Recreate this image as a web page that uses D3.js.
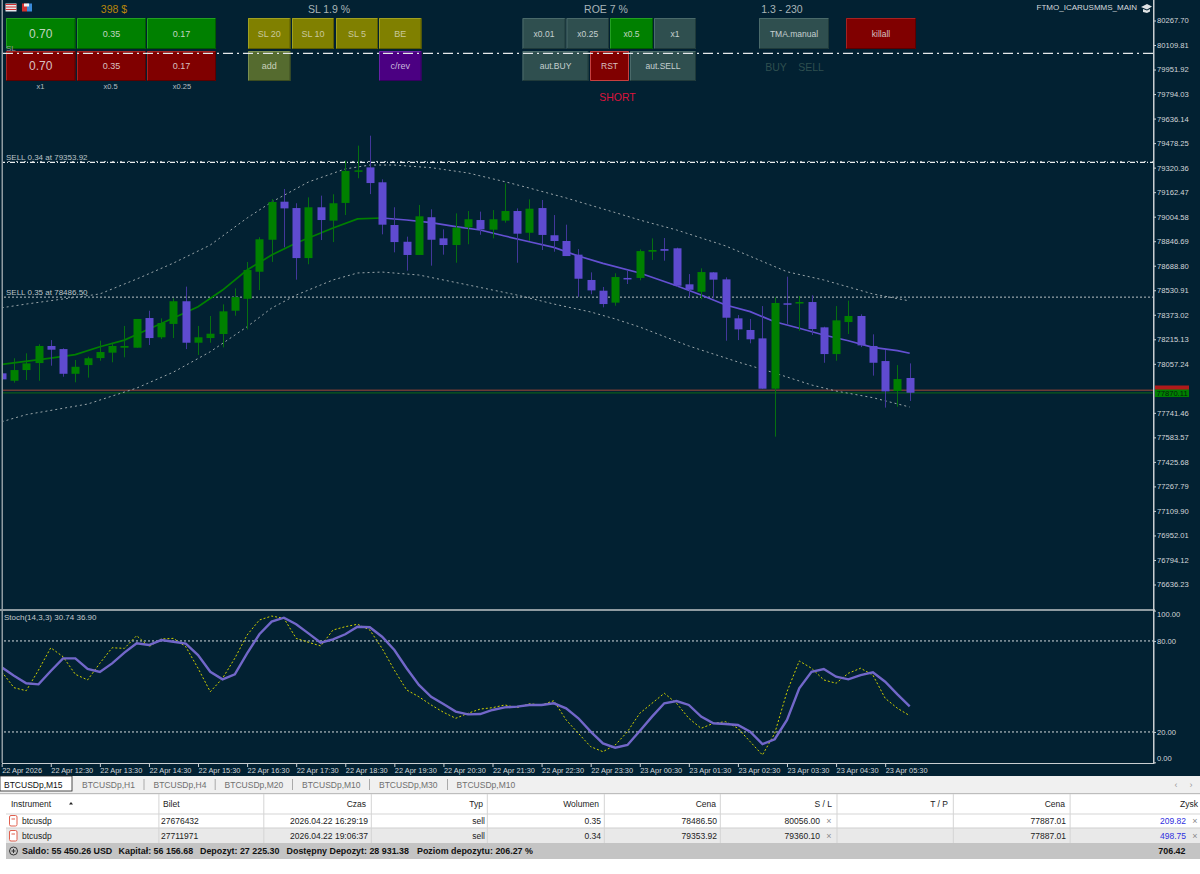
<!DOCTYPE html>
<html>
<head>
<meta charset="utf-8">
<script src="https://cdn.jsdelivr.net/npm/d3@7"></script>
<style>
  html, body { margin: 0; padding: 0; background: #fff; }
  svg { display: block; }
  text { font-family: "Liberation Sans", Arial, sans-serif; }
</style>
</head>
<body>
<div id="chart"></div>
<script>
// BTCUSDp M15 terminal window: candles + TMA bands + stochastic + trade panel

// price candles, one entry per 15 min bar
var highs = [78043,78093,78125,78183,78210,78157,78082,78103,78206,78193,78301,78346,78399,78350,78479,78554,78301,78365,78440,78543,78713,78872,79118,79183,79091,79129,79140,79149,79365,79462,79526,79245,79065,78876,79080,79052,78923,79026,79041,79037,79047,79219,79058,79116,79112,79015,78953,78796,78646,78552,78640,78657,78794,78865,78867,78805,78635,78672,78648,78614,78371,78346,78429,78485,78618,78494,78498,78296,78429,78464,78376,78247,78146,78049,78060];
var lows = [77946,77936,77953,77948,78045,77974,77938,77968,78077,78067,78099,78161,78178,78217,78223,78152,78114,78193,78163,78367,78279,78532,78713,78807,78599,78698,78854,78841,79015,79252,79150,78891,78775,78657,78758,78689,78760,78708,78827,78888,78865,78966,78708,78848,78790,78779,78751,78489,78505,78421,78431,78571,78595,78726,78721,78554,78485,78473,78479,78206,78210,78189,77897,77588,78314,78270,78243,78064,78077,78249,78165,77981,77775,77781,77818];
var opens = [77996,77948,78017,78062,78172,78152,77993,78049,78094,78129,78161,78161,78352,78228,78314,78460,78193,78223,78249,78399,78476,78650,78856,79101,79060,78738,79065,78979,79093,79294,79322,79226,78951,78843,78758,79001,78865,78822,78936,78983,78921,78979,79041,78901,79060,78885,78848,78760,78597,78528,78451,78610,78610,78779,78796,78801,78569,78521,78646,78601,78350,78275,78221,77897,78447,78447,78455,78292,78120,78326,78365,78172,78075,77882,77966];
var closes = [77957,78017,78060,78172,78148,77993,78038,78093,78133,78172,78172,78346,78223,78320,78460,78193,78228,78251,78395,78487,78661,78859,79099,79058,78738,79065,78983,79091,79299,79303,79221,78953,78841,78758,79007,78856,78822,78934,78988,78923,78988,79041,78895,79056,78887,78848,78751,78605,78530,78442,78616,78603,78783,78790,78785,78560,78534,78648,78599,78354,78279,78215,77897,78449,78438,78455,78281,78120,78337,78365,78176,78064,77880,77959,77871];

// TMA centre line and its two bands, read at these bars
var tmaBars = [0,4,6,8,10,12,14,16,18,20,22,24,25,27,29,31,33,35,37,39,41,43,45,47,49,52,55,57,59,61,63,65,67,69,71,73,74];
var tmaValues = [78054,78094,78116,78167,78210,78281,78352,78425,78532,78661,78758,78835,78867,78932,78990,78996,78983,78966,78940,78919,78880,78843,78807,78751,78704,78642,78560,78500,78436,78393,78328,78286,78243,78206,78163,78142,78125];
var tmaTurnBar = 31; // green while rising, purple afterwards
var upperBars = [0,2,8,11,14,17,20,22,25,28,30,32,35,38,41,43,46,50,52,55,59,64,67,71,74];
var upperValues = [78418,78442,78507,78603,78706,78822,78996,79099,79228,79312,79337,79337,79320,79286,79230,79189,79125,79031,78983,78919,78816,78650,78597,78507,78462];
var lowerBars = [0,2,7,11,14,17,20,22,24,27,29,31,34,38,42,45,48,50,52,56,60,63,66,68,71,74];
var lowerValues = [77684,77730,77798,77901,78004,78135,78296,78416,78500,78597,78642,78648,78629,78565,78500,78442,78391,78346,78294,78172,78069,77998,77921,77882,77839,77779];

// stochastic, one value per bar
var stochMain = [59.7,49.2,47.2,60.8,75.5,69.6,58,54.3,65.3,75.5,75.1,83.5,76.2,81.3,81.7,76.2,62,46.5,55.4,68.6,83.9,93.8,96.4,94.9,81.7,79.1,76.7,87.2,89.4,91,87.2,75.1,60.8,47.7,43.2,37.8,33,29,32.3,35.1,36,37.8,36,38.6,37.8,40.6,27.9,19.1,10.3,7,11.4,20.2,32.3,38.9,45.5,38.9,29,22.4,25.7,26.8,22.4,13.6,4.8,19.1,46.5,66.8,62,54.3,52.1,58.7,62,57.5,42.2,35.6,30.74];
var stochSignal = [62.6,57.1,52.1,51.4,60.2,68.5,68.5,61.5,59.5,65.2,72.3,78.4,77.3,80.6,79.5,78.2,70.7,59.7,54.7,58,71.8,84.4,92.7,95.3,91,85,78.8,81,84.4,89.4,89,82.8,74,62,51,43.2,38.4,33.4,31.6,31.8,34.5,36.2,36.7,37.8,37.8,38.9,35.6,29,20.2,12.5,9.6,11.4,20.6,30.1,38.9,40.4,37.8,30.1,25.7,25.2,24.6,20.2,12,15.2,27.9,48.8,59.7,61.5,56.4,54.7,57.5,59.3,53.1,44.8,36.9];
var stochLevels = [80, 20];

// trade levels
var slLevel = 80056.00;
var sellLevels = [79353.92, 78486.50];
var sellLabels = ["SELL 0.34 at 79353.92", "SELL 0.35 at 78486.50"];
var secondStop = 79360.10;
var askPrice = 77887.01;
var bidPrice = 77870.11;

// axes
var priceTicks = [80267.70,80109.81,79951.92,79794.03,79636.14,79478.25,79320.36,79162.47,79004.58,78846.69,78688.80,78530.91,78373.02,78215.13,78057.24,77741.46,77583.57,77425.68,77267.79,77109.90,76952.01,76794.12,76636.23];
var stochTicks = [100, 80, 20, 0];
var timeBars = [0,4,8,12,16,20,24,28,32,36,40,44,48,52,56,60,64,68,72];
var timeLabels = ["22 Apr 2026","22 Apr 12:30","22 Apr 13:30","22 Apr 14:30","22 Apr 15:30","22 Apr 16:30","22 Apr 17:30","22 Apr 18:30","22 Apr 19:30","22 Apr 20:30","22 Apr 21:30","22 Apr 22:30","22 Apr 23:30","23 Apr 00:30","23 Apr 01:30","23 Apr 02:30","23 Apr 03:30","23 Apr 04:30","23 Apr 05:30"];

// bottom tabs and positions table
var tabNames = ["BTCUSDp,M15","BTCUSDp,H1","BTCUSDp,H4","BTCUSDp,M20","BTCUSDp,M10","BTCUSDp,M30","BTCUSDp,M10"];
var tableHeaders = ["Instrument","Bilet","Czas","Typ","Wolumen","Cena","S / L","T / P","Cena","Zysk"];
var rowSymbols = ["btcusdp","btcusdp"];
var rowTickets = ["27676432","27711971"];
var rowTimes = ["2026.04.22 16:29:19","2026.04.22 19:06:37"];
var rowTypes = ["sell","sell"];
var rowVolumes = ["0.35","0.34"];
var rowOpenPrices = ["78486.50","79353.92"];
var rowStops = ["80056.00","79360.10"];
var rowPrices = ["77887.01","77887.01"];
var rowProfits = ["209.82","498.75"];
var footerParts = ["Saldo: 55 450.26 USD","Kapitał: 56 156.68","Depozyt: 27 225.30","Dostępny Depozyt: 28 931.38","Poziom depozytu: 206.27 %"];
var footerTotal = "706.42";

var W = 1200, H = 874;
var BG = "#022132", AXIS = "#c9ced1", GREY = "#8f9ba1";
var GREEN = "#008000", PURPLE = "#5f4bd0";
var chartRight = 1153, stochBottom = 763;

var svg = d3.select("#chart").append("svg").attr("width", W).attr("height", H);
svg.append("rect").attr("width", W).attr("height", H).attr("fill", "#fff");
svg.append("rect").attr("width", W).attr("height", 776).attr("fill", BG);

// scales
var x = d3.scaleLinear().domain([0, 74]).range([1.7, 909.7]);
var y = d3.scaleLinear().domain([80267.70, 76636.23]).range([20.5, 584.5]);
var yStoch = d3.scaleLinear().domain([0, 100]).range([762.3, 610.6]);

svg.append("clipPath").attr("id", "plot")
  .append("rect").attr("x", 2.5).attr("y", 0).attr("width", chartRight - 2.5).attr("height", 770);

var plot = svg.append("g").attr("clip-path", "url(#plot)");

function hline(value, scale, color, dash, width) {
  plot.append("line")
    .attr("x1", 0).attr("x2", chartRight)
    .attr("y1", scale(value)).attr("y2", scale(value))
    .attr("stroke", color)
    .attr("stroke-width", width || 1)
    .attr("stroke-dasharray", dash);
}

var priceLine = d3.line().x(function (d) { return x(d[0]); }).y(function (d) { return y(d[1]); });
var stochLine = d3.line()
  .x(function (d, i) { return x(i); })
  .y(function (d) { return yStoch(d); });

// ask / bid and sell levels
hline(askPrice, y, "#6e3a35", null, 1.3);
hline(bidPrice, y, "#0b5a1c", null, 1.3);
hline(sellLevels[0], y, "#e8ecee", "5,2,1,2", 1.3);
hline(secondStop, y, "#aeb6ba", "2,6", 1);
hline(sellLevels[1], y, "#b9c1c4", "2,2", 1);

// bands
function band(bars, values) {
  plot.append("path")
    .attr("d", priceLine(bars.map(function (b, i) { return [b, values[i]]; })))
    .attr("fill", "none").attr("stroke", "#9aa5a9")
    .attr("stroke-width", 1).attr("stroke-dasharray", "2,3");
}
band(upperBars, upperValues);
band(lowerBars, lowerValues);

// TMA, two colours
var tmaPts = tmaBars.map(function (b, i) { return [b, tmaValues[i]]; });
plot.append("path")
  .attr("d", priceLine(tmaPts.filter(function (d) { return d[0] <= tmaTurnBar; })))
  .attr("fill", "none").attr("stroke", GREEN).attr("stroke-width", 1.7);
plot.append("path")
  .attr("d", priceLine(tmaPts.filter(function (d) { return d[0] >= tmaTurnBar; })))
  .attr("fill", "none").attr("stroke", "#6450d2").attr("stroke-width", 1.7);

// candles
var candles = highs.map(function (h, i) {
  return { i: i, h: h, l: lows[i], o: opens[i], c: closes[i] };
});
var bar = plot.selectAll(".candle").data(candles).enter().append("g").attr("class", "candle");
bar.append("line")
  .attr("x1", function (d) { return Math.round(x(d.i)) + 0.5; })
  .attr("x2", function (d) { return Math.round(x(d.i)) + 0.5; })
  .attr("y1", function (d) { return y(d.h); })
  .attr("y2", function (d) { return y(d.l); })
  .attr("stroke", function (d) { return d.c >= d.o ? "#067010" : "#43379b"; });
bar.append("rect")
  .attr("x", function (d) { return Math.round(x(d.i)) - 3.5; })
  .attr("width", 8)
  .attr("y", function (d) { return y(Math.max(d.o, d.c)); })
  .attr("height", function (d) { return Math.max(1.5, Math.abs(y(d.o) - y(d.c))); })
  .attr("fill", function (d) { return d.c >= d.o ? GREEN : PURPLE; });

// stochastic pane
stochLevels.forEach(function (v) { hline(v, yStoch, "#d5dadc", "2,2", 1); });
plot.append("path").attr("d", stochLine(stochMain))
  .attr("fill", "none").attr("stroke", "#d0d000").attr("stroke-width", 1).attr("stroke-dasharray", "2,2");
plot.append("path").attr("d", stochLine(stochSignal))
  .attr("fill", "none").attr("stroke", "#7267c9").attr("stroke-width", 2.4);

// pane frame
svg.append("rect").attr("x", 1.5).attr("y", 0).attr("width", 1.5).attr("height", stochBottom).attr("fill", GREY);
svg.append("rect").attr("x", 0).attr("y", 609).attr("width", chartRight + 2).attr("height", 2).attr("fill", GREY);
svg.append("rect").attr("x", 2).attr("y", stochBottom).attr("width", chartRight - 1).attr("height", 1).attr("fill", AXIS);
svg.append("rect").attr("x", chartRight).attr("y", 0).attr("width", 1.5).attr("height", stochBottom + 1).attr("fill", AXIS);

// axes
function styleAxis(size) {
  return function (g) {
    g.select(".domain").remove();
    g.selectAll("line").attr("stroke", AXIS);
    g.selectAll("text").attr("fill", "#d3d7da").attr("font-size", size).attr("font-family", "Liberation Sans");
  };
}
svg.append("g").attr("transform", "translate(" + (chartRight + 1) + ",0)")
  .call(d3.axisRight(y).tickValues(priceTicks).tickFormat(d3.format(".2f")).tickSize(2).tickPadding(1))
  .call(styleAxis(7.6));
svg.append("g").attr("transform", "translate(" + (chartRight + 1) + ",0)")
  .call(d3.axisRight(yStoch).tickValues(stochTicks).tickFormat(d3.format(".2f")).tickSize(2).tickPadding(1))
  .call(styleAxis(7.6))
  .call(function (g) {
    // the end labels are pushed inside the pane
    g.selectAll(".tick text").attr("dy", function (d) {
      return d === 100 ? "0.8em" : d === 0 ? "-0.2em" : "0.32em";
    });
  });
svg.append("g").attr("transform", "translate(0," + (stochBottom + 1) + ")")
  .call(d3.axisBottom(x).tickValues(timeBars).tickFormat(function (d, i) { return timeLabels[i]; }).tickSize(3).tickPadding(1))
  .call(styleAxis(7.4))
  .call(function (g) { g.selectAll("text").attr("text-anchor", "start").attr("dx", 0); });

// last price tags
svg.append("rect").attr("x", 1155).attr("y", 385.5).attr("width", 34).attr("height", 5.5).attr("fill", "#b01a1a");
svg.append("rect").attr("x", 1155).attr("y", 389.5).attr("width", 34).attr("height", 7.5).attr("fill", GREEN);
svg.append("text").attr("x", 1156.5).attr("y", 396).attr("font-size", 7.6).attr("fill", "#04210c").text(d3.format(".2f")(bidPrice));

// trade panel
function button(x0, y0, x1, y1, label, fill, size, light, dark, color) {
  var g = svg.append("g");
  g.append("rect").attr("x", x0).attr("y", y0).attr("width", x1 - x0).attr("height", y1 - y0).attr("fill", fill);
  g.append("path").attr("d", "M" + (x0 + 0.5) + "," + (y1 - 0.5) + "V" + (y0 + 0.5) + "H" + (x1 - 0.5))
    .attr("fill", "none").attr("stroke", light);
  g.append("path").attr("d", "M" + (x0 + 0.5) + "," + (y1 - 0.5) + "H" + (x1 - 0.5) + "V" + (y0 + 0.5))
    .attr("fill", "none").attr("stroke", dark);
  g.append("text").attr("x", (x0 + x1) / 2).attr("y", (y0 + y1) / 2 + size * 0.36)
    .attr("text-anchor", "middle").attr("font-size", size).attr("fill", color || "#c4cdc9").text(label);
}
function greenBtn(a, b, l, s) { button(a, 18, b, 49, l, GREEN, s, "#22a022", "#005a00", "#c0d4c0"); }
function redBtn(a, b, l, s) { button(a, 51, b, 81, l, "#800000", s, "#a52222", "#5a0000", "#d8c0c0"); }
function oliveBtn(a, b, l) { button(a, 18, b, 49, l, "#808000", 9, "#a0a020", "#5c5c00", "#c8c89c"); }
function slateBtn(a, b, y0, y1, l) { button(a, y0, b, y1, l, "#2f4f4f", 8.5, "#4a6a6a", "#1f3a3a", "#c6d0d0"); }

greenBtn(6, 75.5, "0.70", 12); greenBtn(77, 146, "0.35", 9); greenBtn(147, 216, "0.17", 9);
redBtn(6, 75.5, "0.70", 12); redBtn(77, 146, "0.35", 9); redBtn(147, 216, "0.17", 9);
oliveBtn(248, 290.5, "SL 20"); oliveBtn(292, 334, "SL 10"); oliveBtn(336, 378, "SL 5"); oliveBtn(379, 421.5, "BE");
button(248, 51, 290.5, 81, "add", "#556b2f", 9, "#7a8f50", "#3c4d20", "#c8d0bc");
button(379, 51, 421.5, 81, "c/rev", "#4b0082", 9, "#6a20a8", "#360060", "#c8b8dc");
slateBtn(522.5, 565.5, 18, 49, "x0.01"); slateBtn(566.5, 609, 18, 49, "x0.25");
button(610, 18, 653, 49, "x0.5", GREEN, 8.5, "#22a022", "#005a00", "#c0d4c0");
slateBtn(654, 696, 18, 49, "x1");
slateBtn(522.5, 588.5, 51, 81, "aut.BUY");
button(590, 51, 629, 81, "RST", "#800000", 8.5, "#c84040", "#c84040", "#d8c0c0");
slateBtn(630, 696, 51, 81, "aut.SELL");
slateBtn(759, 829, 18, 49, "TMA.manual");
button(846, 18, 916, 49, "killall", "#800000", 8.5, "#a52222", "#5a0000", "#d8c0c0");

function label(tx, ty, txt, size, color, anchor, weight) {
  return svg.append("text").attr("x", tx).attr("y", ty).attr("font-size", size).attr("fill", color)
    .attr("text-anchor", anchor || "start").attr("font-weight", weight || null).text(txt);
}
label(114, 13, "398 $", 10.5, "#b8860b", "middle");
label(329, 13, "SL 1.9 %", 10.5, "#a9b5b8", "middle");
label(606, 13, "ROE 7 %", 10.5, "#a9b5b8", "middle");
label(782, 13, "1.3 - 230", 10.5, "#a9b5b8", "middle");
label(776, 71, "BUY", 10.5, "#2f4f4f", "middle");
label(811, 71, "SELL", 10.5, "#2f4f4f", "middle");
label(617.5, 101, "SHORT", 10.5, "#dc143c", "middle");
label(40.5, 89, "x1", 7.5, "#b5bfc2", "middle");
label(110.5, 89, "x0.5", 7.5, "#b5bfc2", "middle");
label(182, 89, "x0.25", 7.5, "#b5bfc2", "middle");
label(6, 51, "SL", 8, "#8e999d");
label(1137, 9.5, "FTMO_ICARUSMMS_MAIN", 8, "#d5dadc", "end");
label(4, 620, "Stoch(14,3,3) " + d3.format(".2f")(stochMain[74]) + " " + d3.format(".2f")(stochSignal[74]), 8, "#c3c9cc");
sellLabels.forEach(function (t, i) {
  label(6, y(sellLevels[i]) - 2, t, 8, "#bcc4c7");
});

// SL line sits on top of the buttons
svg.append("line").attr("x1", 3).attr("x2", chartRight)
  .attr("y1", y(slLevel)).attr("y2", y(slLevel))
  .attr("stroke", "#e4e8ea").attr("stroke-width", 1.2).attr("stroke-dasharray", "10,4,2,4");

// little toolbar icons and cap
svg.append("rect").attr("x", 5.5).attr("y", 3.5).attr("width", 11).attr("height", 8).attr("fill", "#e8e8ee");
[5.5, 8, 10.5].forEach(function (v) {
  svg.append("rect").attr("x", 5.5).attr("y", v - 1.5).attr("width", 11).attr("height", 1).attr("fill", "#d03030");
});
svg.append("rect").attr("x", 22).attr("y", 3.5).attr("width", 5).attr("height", 8).attr("fill", "#d03030");
svg.append("rect").attr("x", 27).attr("y", 3.5).attr("width", 5).attr("height", 8).attr("fill", "#3a8ad8");
svg.append("rect").attr("x", 24).attr("y", 3.5).attr("width", 5).attr("height", 3).attr("fill", "#f0f0f0");
svg.append("path").attr("d", "M1141,7L1147,4L1152,6.5L1147,9.5ZM1143,9V12L1147,13L1150,11.5V9L1147,10.5Z").attr("fill", "#dfe3e5");

// tab bar
svg.append("rect").attr("x", 0).attr("y", 776).attr("width", W).attr("height", 18).attr("fill", "#f0f0f0");
svg.append("rect").attr("x", 0).attr("y", 776).attr("width", 72).attr("height", 15)
  .attr("fill", "#fff").attr("stroke", "#222").attr("stroke-width", 0.8);
var tabX = [4, 82, 153.5, 224.6, 302, 379, 456.6];
var tabSep = [143.5, 214.7, 292, 369, 447];
tabNames.forEach(function (t, i) {
  label(tabX[i], 788, t, 8.5, i === 0 ? "#111" : "#6f6f6f");
});
tabSep.forEach(function (v) {
  svg.append("rect").attr("x", v).attr("y", 779).attr("width", 1).attr("height", 11).attr("fill", "#aaa");
});
label(1176, 788, "‹", 9, "#999", "middle");
label(1191, 788, "›", 9, "#999", "middle");

// positions table
svg.append("rect").attr("x", 0).attr("y", 793).attr("width", W).attr("height", 1.2).attr("fill", "#bdbdbd");
svg.append("rect").attr("x", 6).attr("y", 813.5).attr("width", W - 6).attr("height", 1).attr("fill", "#d6d6d6");
svg.append("rect").attr("x", 6).attr("y", 828).attr("width", W - 6).attr("height", 15).attr("fill", "#e9e9e9");
svg.append("rect").attr("x", 6).attr("y", 827.5).attr("width", W - 6).attr("height", 1).attr("fill", "#cfcfcf");
svg.append("rect").attr("x", 6).attr("y", 843).attr("width", W - 6).attr("height", 16).attr("fill", "#c4c4c4");

var colDiv = [158.4, 263.3, 370.8, 486.8, 603.8, 719.8, 836.5, 952.8, 1069.6];
colDiv.forEach(function (v) {
  svg.append("rect").attr("x", v).attr("y", 794).attr("width", 1).attr("height", 49).attr("fill", "#d4d4d4");
});

var headAnchor = [11, 163, 366, 483, 599, 716, 832, 948, 1065, 1198];
tableHeaders.forEach(function (t, i) {
  label(headAnchor[i], 807, t, 8.5, "#222", i < 2 ? "start" : "end");
});
svg.append("path").attr("d", "M69,804.5L71,802L73,804.5Z").attr("fill", "#222");

rowSymbols.forEach(function (s, i) {
  var base = 824 + i * 15;
  svg.append("rect").attr("x", 9.5).attr("y", base - 8.5).attr("width", 7.5).attr("height", 10.5).attr("rx", 1.5)
    .attr("fill", "#fff").attr("stroke", "#e0604f");
  svg.append("rect").attr("x", 11.5).attr("y", base - 5.5).attr("width", 3.5).attr("height", 1).attr("fill", "#e0604f");
  label(22, base, s, 8.5, "#222");
  label(161, base, rowTickets[i], 8.5, "#222");
  label(368, base, rowTimes[i], 8.5, "#222", "end");
  label(485, base, rowTypes[i], 8.5, "#222", "end");
  label(601, base, rowVolumes[i], 8.5, "#222", "end");
  label(717, base, rowOpenPrices[i], 8.5, "#222", "end");
  label(820, base, rowStops[i], 8.5, "#222", "end");
  label(829, base, "×", 9, "#8a8a8a", "middle");
  label(1066, base, rowPrices[i], 8.5, "#222", "end");
  label(1186, base, rowProfits[i], 8.5, "#3030e0", "end");
  label(1195, base, "×", 9, "#8a8a8a", "middle");
});

// footer with balance line
svg.append("circle").attr("cx", 13.5).attr("cy", 851).attr("r", 4).attr("fill", "none").attr("stroke", "#333");
svg.append("path").attr("d", "M11.5,851H15.5M13.5,849V853").attr("stroke", "#333");
var footerX = [22, 118.6, 200, 286.6, 417];
footerParts.forEach(function (t, i) {
  label(footerX[i], 854, t, 8.9, "#111", "start", "bold");
});
label(1185.5, 854, footerTotal, 8.9, "#111", "end", "bold");
</script>
</body>
</html>
